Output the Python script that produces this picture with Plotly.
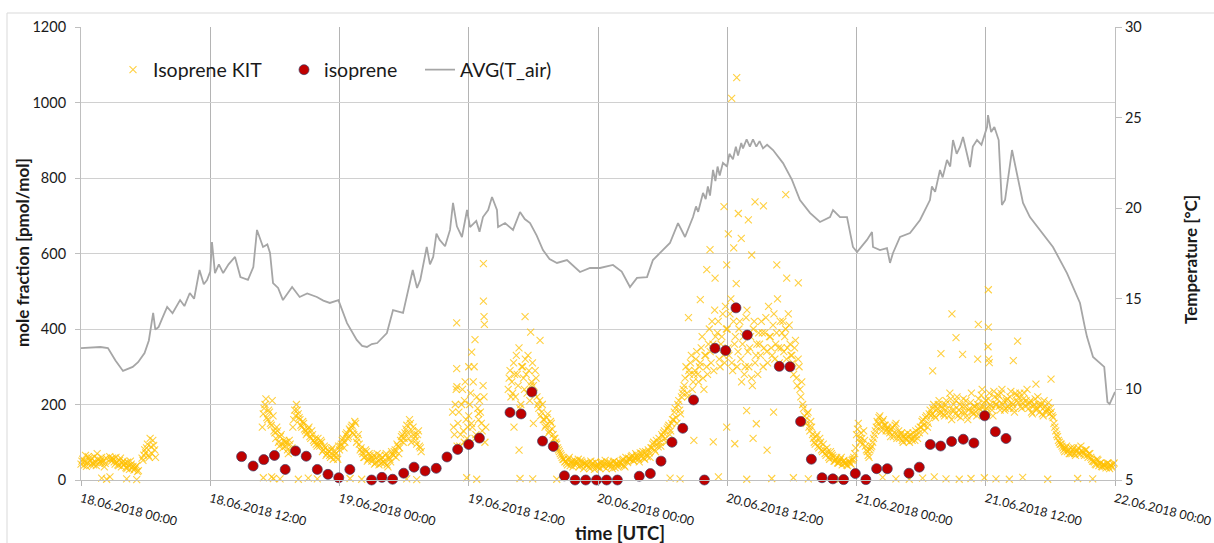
import pandas as pd
import plotly.graph_objects as go

BASE = pd.Timestamp("2018-06-18 00:00")

# ---------------- data ----------------
# x tick labels (every 12 h)
tick_hours = [0, 12, 24, 36, 48, 60, 72, 84, 96]
tick_labels = ["18.06.2018 00:00", "18.06.2018 12:00", "19.06.2018 00:00", "19.06.2018 12:00",
               "20.06.2018 00:00", "20.06.2018 12:00", "21.06.2018 00:00", "21.06.2018 12:00",
               "22.06.2018 00:00"]

# AVG(T_air) [°C] : hours since 18.06.2018 00:00 and temperature
temp_h = [0, 1.0, 1.8, 2.5, 3.2, 3.9, 4.3, 4.8, 5.3, 5.9, 6.3, 6.7, 6.9, 7.2, 7.6, 8.0, 8.5, 9.2, 9.6,
          10.1, 10.5, 11.0, 11.4, 11.7, 12.0, 12.16, 12.44, 12.8, 13.2, 13.7, 14.3, 14.8, 15.5, 16.0,
          16.34, 16.9, 17.3, 17.55, 17.83, 18.3, 18.75, 19.6, 20.3, 21.0, 21.9, 22.5, 23.1, 23.9,
          24.7, 25.6, 26.1, 26.55, 27.0, 27.5, 28.4, 28.97, 29.9, 30.4, 30.8, 31.2, 31.5, 32.1, 32.4,
          32.7, 33.0, 33.3, 33.8, 34.26, 34.54, 34.9, 35.37, 35.84, 36.12, 36.7, 37.0, 37.32, 37.8,
          38.16, 38.62, 38.72, 39.37, 40.11, 40.76, 41.2, 41.69, 42.3, 42.89, 43.5, 44.19, 45.12,
          45.7, 46.33, 47.26, 48.18, 49.39, 50.2, 50.97, 51.62, 52.55, 53.1, 53.76, 54.68, 55.43,
          56.08, 56.82, 57.1, 57.3, 57.75, 58.0, 58.2, 58.4, 58.68, 58.9, 59.1, 59.3, 59.6, 59.98,
          60.2, 60.53, 60.8, 61.0, 61.3, 61.46, 61.8, 62.1, 62.39, 62.7, 63.0, 63.32, 63.7,
          64.25, 65.18, 66.01, 66.75, 67.68, 68.61, 69.54, 69.82, 70.47, 71.12, 71.67, 72.05, 72.97,
          73.44, 73.53, 74.18, 74.83, 75.11, 75.39, 76.04, 76.97, 77.9, 78.82, 79.0, 79.3, 79.75,
          80.0, 80.4, 80.7, 80.96, 81.3, 81.61, 81.89, 82.2, 82.54, 82.8, 83.19, 83.6, 84.12, 84.21,
          84.5, 84.8, 85.2, 85.5, 85.79, 86.44, 86.9, 87.46, 88.1, 89.04, 90.24, 91.54, 92.75, 93.2,
          93.4, 93.96, 94.6, 95.0, 95.3, 95.5, 96.0]
temp_v = [12.28, 12.30, 12.34, 12.28, 11.6, 11.02, 11.1, 11.24, 11.5, 12.01, 12.7, 14.22, 13.3, 13.44,
          14.0, 14.55, 14.2, 14.93, 14.6, 15.32, 15.0, 16.59, 15.8, 16.04, 16.5, 18.13, 16.42, 16.9,
          16.42, 16.9, 17.31, 16.2, 16.04, 16.75, 18.8, 17.86, 18.0, 17.53, 15.87, 15.6, 14.93, 15.65,
          15.1, 15.3, 15.1, 14.9, 14.77, 14.93, 13.66, 12.73, 12.4, 12.34, 12.5, 12.56, 13.11, 14.38,
          14.22, 15.5, 16.59, 15.6, 16.04, 17.86, 16.9, 17.31, 18.6, 18.25, 17.9, 18.8, 20.29, 19.0,
          18.41, 19.9, 18.96, 19.3, 18.7, 19.51, 19.9, 20.62, 19.9, 18.96, 19.18, 18.8, 19.79, 19.4,
          19.18, 18.5, 17.69, 17.2, 16.98, 17.14, 16.8, 16.48, 16.7, 16.7, 16.87, 16.5, 15.65, 16.15,
          16.2, 17.14, 17.53, 18.08, 19.18, 18.41, 19.51, 20.1, 19.8, 20.84, 20.5, 21.2, 20.7, 22.11,
          21.5, 22.3, 21.8, 22.5, 22.3, 23.0, 22.7, 23.4, 22.9, 23.6, 23.3, 23.8, 23.4, 23.8, 23.4,
          23.7, 23.3, 23.5, 23.21, 22.49, 21.56, 20.45, 19.74, 19.24, 19.51, 19.9, 19.51, 19.51,
          17.86, 17.58, 18.25, 18.69, 17.86, 17.69, 17.8, 16.98, 17.53, 18.41, 18.63, 19.35, 20.45,
          21.2, 20.9, 22.11, 21.7, 22.66, 22.3, 23.76, 23.0, 23.38, 23.93, 23.2, 22.27, 23.4, 23.76,
          23.5, 24.48, 25.14, 24.2, 24.48, 23.76, 20.18, 20.45, 23.21, 21.94, 20.29, 19.51, 18.8,
          17.86, 16.42, 14.77, 13.44, 12.9, 11.79, 11.46, 11.24, 9.3, 9.19, 9.86]

# isoprene (red dots) [pmol/mol]
iso_h = [14.91, 15.98, 16.97, 17.96, 18.96, 19.92, 20.91, 21.94, 22.93, 23.93, 24.96, 26.98, 27.94,
         28.93, 29.96, 30.92, 31.95, 32.98, 33.98, 34.97, 36.0, 36.99, 39.83, 40.86, 41.86, 42.85,
         43.85, 44.88, 45.87, 46.86, 47.86, 48.8, 49.8, 51.83, 52.86, 53.85, 54.87, 55.87, 56.87,
         57.88, 58.86, 59.85, 60.81, 61.86, 64.83, 65.82, 66.81, 67.81, 68.8, 69.8, 70.8, 71.89,
         72.87, 73.87, 74.86, 76.87, 77.83, 78.85, 79.81, 80.83, 81.91, 82.9, 83.9, 84.89, 85.88]
iso_v = [62, 37, 54, 65, 28, 77, 63, 28, 15, 6, 28, 0, 7, 2, 18, 34, 24, 31, 61, 81,
         94, 111, 179, 175, 233, 103, 89, 11, 0, 0, 0, 0, 0, 10, 17, 50, 100, 137, 212, 0,
         349, 343, 456, 384, 301, 300, 155, 55, 6, 3, 1, 17, 1, 30, 30, 18, 34, 94, 90, 102,
         108, 98, 170, 128, 110]

# Isoprene KIT: 10-minute values, one row per hour (None = no data)
N = None
kit_rows = [
    [42, 55, 48, 36, 62, 50], [58, 40, 47, 70, 44, 52], [46, 35, 58, N, 62, 50],
    [55, 42, 48, 38, 58, 45], [40, 33, 47, 28, 42, 36], [30, 38, 25, N, 58, 66],
    [72, 95, 60, 88, 105, 80], [N] * 6, [N] * 6, [N] * 6, [N] * 6, [N] * 6,
    [N] * 6, [N] * 6, [N] * 6, [N] * 6, [N, N, N, N, N, 140], [190, 215, 160, 180, 145, 170],
    [125, 140, 100, 115, 95, 105], [90, 80, 105, 75, 140, 185], [200, 175, 160, 140, 150, 130],
    [125, 140, 110, 120, 100, 95], [110, 90, 100, 80, 85, 70], [75, 60, 85, 65, 70, 55],
    [80, 95, 110, 100, 125, 115], [130, 145, 120, 150, 110, 95], [85, 70, 60, 75, 55, 65],
    [50, 65, 45, 70, 40, 55], [60, 45, 70, 35, 55, 75], [65, 80, 95, 70, 105, 120],
    [110, 135, 125, 160, 100, 140], [115, 95, 130, 85, N, N], [N] * 6, [N] * 6,
    [N, N, N, 180, 120, 240], [150, 90, 200, 130, 260, 110], [170, 230, 140, 300, 120, 190],
    [210, 150, 250, 100, N, N], [N] * 6, [N, N, N, N, 240, 290],
    [260, 310, 220, 280, 350, 200], [300, 240, 280, 330, 210, 260], [250, 290, 220, 190, 170, 200],
    [160, 145, 175, 130, 150, 120], [110, 95, 80, 70, 60, 55], [50, 40, 60, 45, 35, 52],
    [42, 55, 38, 48, 30, 45], [40, 35, 50, 44, 28, 38], [42, 30, 48, 36, 52, 40],
    [38, 45, 30, 50, 42, 35], [48, 40, 55, 35, 50, 58], [55, 65, 50, 70, 60, 48],
    [62, 75, 55, 68, 80, 60], [85, 100, 75, 95, 110, 90], [115, 130, 100, 140, 120, 150],
    [160, 190, 150, 210, 175, 230], [250, 300, 220, 280, 330, 260], [290, 340, 260, 310, 380, 240],
    [330, 280, 400, 310, 360, 450], [350, 420, 300, 380, 330, 460], [400, 330, 480, 290, 360, 520],
    [340, 420, 260, 380, 300, 450], [300, 380, 250, 420, 330, 280], [360, 420, 300, 390, 340, 460],
    [380, 330, 440, 360, 480, 310], [350, 420, 380, 320, 440, 360], [330, 280, 370, 250, 300, 220],
    [200, 170, 150, 180, 130, 140], [110, 95, 120, 85, 100, 75], [80, 65, 75, 55, 70, 60],
    [50, 60, 45, 55, 40, 52], [45, 38, 50, 42, 55, 70], [120, 150, 100, 110, 130, 90],
    [75, 60, 85, 100, 120, 140], [150, 170, 130, 160, 145, 135], [130, 115, 140, 125, 150, 120],
    [110, 125, 100, 120, 105, 115], [120, 105, 115, 130, 110, 125], [140, 160, 130, 170, 150, 185],
    [175, 200, 165, 190, 210, 180], [190, 170, 210, 180, 230, 160], [200, 175, 220, 185, 165, 195],
    [180, 210, 160, 190, 230, 175], [195, 170, 215, 185, 240, 205], [210, 180, 230, 195, 170, 220],
    [200, 225, 185, 240, 210, 190], [215, 190, 235, 200, 180, 225], [205, 230, 190, 215, 195, 240],
    [190, 210, 175, 200, 185, 220], [180, 200, 170, 195, 185, 205], [190, 170, 150, 130, 115, 100],
    [95, 85, 75, 90, 80, 70], [70, 85, 65, 80, 72, 90], [75, 65, 80, 60, 70, 55],
    [50, 42, 55, 38, 45, 35], [40, 32, 45, 30, 38, 42],
]
# Isoprene KIT: the readings 5 minutes after each of the above
kit_rows_b = [
    [50, 38, 65, 45, 57, 40], [45, 62, 38, 55, 48, 60], [52, 44, N, N, 55, 58],
    [48, 60, 40, 52, 35, 50], [45, 30, 38, 50, 32, 26], [35, 22, N, N, 52, 80],
    [85, 65, 110, 70, 92, 60], [N] * 6, [N] * 6, [N] * 6, [N] * 6, [N] * 6,
    [N] * 6, [N] * 6, [N] * 6, [N] * 6, [N, N, N, N, N, 175], [200, 165, 185, 150, 210, 130],
    [110, 130, 90, 120, 85, 100], [100, 70, 95, 85, 160, 170], [185, 165, 145, 155, 135, 120],
    [135, 115, 130, 105, 110, 90], [95, 105, 75, 90, 65, 80], [65, 80, 55, 75, 60, 90],
    [90, 105, 85, 120, 110, 135], [140, 125, 155, 100, 120, 80], [75, 60, 80, 50, 70, 58],
    [58, 42, 60, 50, 65, 45], [50, 65, 40, 60, 48, 68], [75, 60, 90, 85, 115, 100],
    [125, 145, 110, 150, 130, 120], [105, 120, 90, 75, N, N], [N] * 6, [N] * 6,
    [N, N, N, 140, 200, 90], [180, 120, 240, 100, 160, 140], [200, 150, 260, 110, 220, 160],
    [180, 130, 220, 140, N, N], [N] * 6, [N, N, N, N, 270, 220],
    [230, 280, 330, 250, 190, 300], [270, 320, 230, 290, 250, 310], [230, 270, 200, 210, 180, 160],
    [140, 165, 125, 155, 135, 110], [100, 85, 75, 65, 55, 48], [45, 55, 38, 50, 42, 48],
    [48, 35, 52, 40, 44, 38], [45, 30, 42, 36, 48, 34], [35, 45, 38, 44, 30, 46],
    [42, 36, 48, 33, 45, 40], [44, 52, 38, 60, 46, 55], [62, 52, 58, 66, 55, 72],
    [70, 58, 75, 62, 72, 85], [95, 80, 105, 88, 100, 120], [125, 110, 135, 145, 130, 160],
    [180, 165, 200, 185, 220, 240], [270, 230, 290, 310, 240, 280], [320, 280, 300, 350, 270, 330],
    [300, 360, 340, 420, 290, 380], [390, 320, 360, 440, 310, 400], [350, 440, 310, 420, 380, 300],
    [400, 320, 360, 280, 430, 340], [350, 270, 400, 310, 360, 390], [330, 390, 350, 430, 310, 380],
    [350, 410, 320, 390, 350, 420], [390, 340, 400, 350, 410, 330], [310, 350, 270, 320, 240, 260],
    [190, 160, 175, 140, 155, 120], [100, 115, 90, 110, 80, 95], [70, 85, 60, 75, 65, 50],
    [55, 45, 50, 60, 48, 44], [40, 48, 44, 52, 60, 85], [135, 110, 125, 95, 105, 80],
    [65, 80, 90, 110, 130, 155], [165, 140, 155, 145, 130, 140], [125, 135, 115, 145, 110, 130],
    [120, 105, 115, 110, 125, 100], [110, 125, 105, 120, 135, 140], [155, 145, 165, 140, 175, 170],
    [190, 170, 185, 200, 175, 195], [175, 200, 190, 170, 215, 185], [185, 210, 170, 200, 180, 215],
    [195, 170, 185, 205, 180, 195], [180, 200, 190, 225, 195, 185], [190, 215, 200, 185, 235, 200],
    [215, 195, 230, 200, 185, 210], [195, 220, 205, 190, 230, 210], [220, 195, 205, 230, 210, 200],
    [205, 180, 195, 215, 190, 200], [195, 175, 210, 180, 190, 175], [180, 165, 140, 120, 105, 95],
    [90, 80, 85, 75, 70, 85], [80, 70, 75, 85, 68, 78], [70, 80, 65, 70, 60, 50],
    [48, 40, 52, 44, 36, 42], [36, 44, 35, 40, 33, 45],
]

# Isoprene KIT: scattered single readings (near-zero and high values)
kit_extra_h = [1.92, 2.38, 2.69, 4.24, 5.17, 16.93, 17.7, 17.86, 18.48, 20.18, 21.1, 21.94, 24.98,
               26.06, 30.24, 31.17, 35.81, 36.74, 40.76, 41.94, 44.17, 54.69, 55.62, 59.18, 61.81,
               64.13, 66.14, 67.53, 70.47, 74.43, 75.66, 76.9, 78.14, 79.22, 80.31, 81.54, 82.63,
               83.87, 84.95, 86.19, 87.43, 89.75, 92.53, 93.93,
               34.88, 34.88, 34.9, 36.27, 36.58, 37.36, 37.36, 37.42, 37.45, 36.0, 36.9, 35.6,
               41.23, 41.75, 42.62, 40.67, 40.2, 42.0,
               59.7, 60.41, 60.88, 61.03, 61.96, 62.58, 63.36, 65.43, 58.1, 58.87, 59.95, 62.27,
               64.6, 65.52, 66.6, 56.4, 57.5, 60.1, 60.6, 61.3, 58.4,
               56.9, 58.7, 59.95, 60.7, 62.4, 63.7, 64.3, 61.8, 62.7,
               79.07, 79.84, 80.86, 81.24, 81.85, 83.25, 83.31, 84.24, 84.24, 84.21, 84.27, 84.33,
               86.56, 86.96, 88.66, 90.06]
kit_extra_v = [5, 2, 8, 3, 1, 6, 8, 4, 3, 2, 5, 3, 4,
               2, 3, 1, 6, 2, 4, 3, 2, 5, 3, 8, 2,
               4, 6, 3, 2, 7, 3, 2, 5, 8, 3, 2, 4,
               6, 3, 2, 7, 2, 4, 3,
               416, 295, 247, 339, 372, 573, 474, 433, 412, 300, 176, 210,
               433, 392, 370, 79, 140, 150,
               724, 1011, 1066, 706, 689, 737, 726, 756, 557, 535, 570, 596,
               570, 535, 522, 430, 478, 652, 615, 640, 610,
               105, 101, 140, 96, 110, 79, 180, 184, 149,
               289, 335, 440, 377, 333, 320, 412, 504, 405, 353, 320, 311,
               316, 368, 254, 267]

# ---------------- build ----------------
def t(hours):
    return [BASE + pd.Timedelta(hours=h) for h in hours]

kit_h, kit_v = [], []
for rows, offset in ((kit_rows, 0.0), (kit_rows_b, 0.5)):
    for hour, row in enumerate(rows):
        for i, v in enumerate(row):
            if v is not None:
                kit_h.append(hour + (i + offset) / 6.0)
                kit_v.append(v)
kit_h += kit_extra_h
kit_v += kit_extra_v

FONT = "Lato"
TXT = "#1a1a1a"

fig = go.Figure()
fig.add_trace(go.Scatter(
    x=t(kit_h), y=kit_v, mode="markers", name="Isoprene KIT", legend="legend",
    marker=dict(symbol="x-thin", size=7, line=dict(width=1.1, color="rgba(255,192,0,0.75)")),
    cliponaxis=False))
fig.add_trace(go.Scatter(
    x=t(iso_h), y=iso_v, mode="markers", name="isoprene", legend="legend2",
    marker=dict(symbol="circle", size=10, color="#C00000", line=dict(width=0.7, color="#3c3f66")),
    cliponaxis=False))
fig.add_trace(go.Scatter(
    x=t(temp_h), y=temp_v, mode="lines", name="AVG(T_air)", yaxis="y2", legend="legend3",
    line=dict(color="#A6A6A6", width=1.8)))

W, H = 1214, 543
L, R, T, B = 81, 1115, 27, 480
pw, ph = R - L, B - T

def px(xp):
    return (xp - L) / pw

def py(yp):
    return (B - yp) / ph

legend_common = dict(orientation="h", yanchor="middle", xanchor="left",
                     font=dict(family=FONT, size=19.5, color=TXT), bgcolor="rgba(0,0,0,0)")

fig.update_layout(
    width=W, height=H,
    margin=dict(l=L, r=W - R, t=T, b=H - B, autoexpand=False),
    paper_bgcolor="white", plot_bgcolor="white",
    font=dict(family=FONT, color=TXT),
    showlegend=True,
    legend=dict(x=px(113), y=py(70), **legend_common),
    legend2=dict(x=px(284), y=py(70), **legend_common),
    legend3=dict(x=px(420), y=py(70), **legend_common),
    xaxis=dict(
        type="date", range=[BASE, BASE + pd.Timedelta(hours=96)], automargin=False,
        tickvals=t(tick_hours), ticktext=tick_labels, tickangle=14,
        tickfont=dict(family=FONT, size=12.5, color=TXT),
        showgrid=True, gridcolor="#B4B4B4", gridwidth=1,
        ticks="outside", ticklen=5, tickcolor="#B4B4B4",
        showline=True, linecolor="#BFBFBF", zeroline=False, ticklabelstandoff=1),
    yaxis=dict(
        range=[0, 1200], dtick=200, tickfont=dict(family=FONT, size=14.5, color=TXT),
        automargin=False,
        showgrid=True, gridcolor="#D0D0D0", gridwidth=1.3,
        ticks="outside", ticklen=5, tickcolor="#BFBFBF",
        showline=True, linecolor="#BFBFBF", zeroline=False, ticklabelstandoff=6),
    yaxis2=dict(
        range=[5, 30], dtick=5, overlaying="y", side="right", automargin=False,
        tickfont=dict(family=FONT, size=14.5, color=TXT), showgrid=False,
        ticks="outside", ticklen=6, tickcolor="#BFBFBF",
        showline=True, linecolor="#BFBFBF", zeroline=False, ticklabelstandoff=0),
    annotations=[
        dict(text="<b>mole fraction [pmol/mol]</b>", xref="paper", yref="paper",
             x=px(22), y=py(253), xanchor="center", yanchor="middle", textangle=-90,
             showarrow=False, font=dict(family=FONT, size=17, color=TXT)),
        dict(text="<b>Temperature [°C]</b>", xref="paper", yref="paper",
             x=px(1190), y=py(260), xanchor="center", yanchor="middle", textangle=-90,
             showarrow=False, font=dict(family=FONT, size=17, color=TXT)),
        dict(text="<b>time [UTC]</b>", xref="paper", yref="paper",
             x=px(620), y=py(533), xanchor="center", yanchor="middle", showarrow=False,
             font=dict(family=FONT, size=18.5, color=TXT)),
    ],
    shapes=[
        dict(type="line", xref="paper", yref="paper", x0=px(7), x1=px(1214), y0=py(13), y1=py(13),
             line=dict(color="#D9D9D9", width=1)),
        dict(type="line", xref="paper", yref="paper", x0=px(7), x1=px(7), y0=py(13), y1=py(543),
             line=dict(color="#D9D9D9", width=1)),
    ],
)

# remove the default 8px page margin so the figure sits at the window origin
fig.write_html("out.html", config={"displayModeBar": False},
               post_script="document.body.style.margin='0px';")
